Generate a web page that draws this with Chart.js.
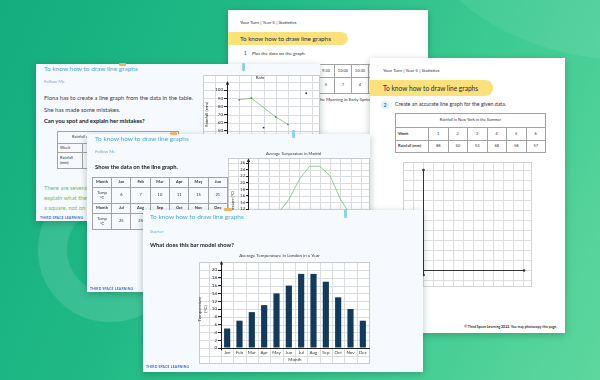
<!DOCTYPE html>
<html>
<head>
<meta charset="utf-8">
<title>To know how to draw line graphs</title>
<script src="https://cdn.jsdelivr.net/npm/chart.js@4.4.1/dist/chart.umd.min.js"></script>
<style>
  html, body { margin: 0; padding: 0; }
  body {
    width: 600px; height: 380px; overflow: hidden; position: relative;
    font-family: Lato, "Open Sans", sans-serif; color: #333;
    background: linear-gradient(115deg, #13ad7e 0%, #21ba86 35%, #3bca91 65%, #5dd79e 100%);
  }
  .deco { position: absolute; border-radius: 50%; }
  .page { position: absolute; overflow: hidden; background: #fff; box-shadow: 0 2px 7px rgba(0, 50, 35, .28); }
  .page.soft { background: #f6f9fd; }
  .t { position: absolute; white-space: nowrap; line-height: 1.2; }
  .hd { color: #4aa8d2; font-size: 6.5px; }
  .sub { color: #67aedb; font-size: 4.5px; }
  .txt { font-size: 5.9px; color: #3c3c3c; }
  .q { font-size: 5.8px; font-weight: 700; color: #222; }
  .green { color: #74bd5f; }
  .pill { position: absolute; left: 0; background: #fbe17a; border-radius: 0 9px 9px 0; color: #1c2a4d; white-space: nowrap; }
  table { position: absolute; border-collapse: collapse; table-layout: fixed; font-size: 4px; color: #333; }
  td { border: 1px solid #a3a3a3; text-align: center; padding: 0; line-height: 1.1; overflow: hidden; white-space: nowrap; }
  td.b { font-weight: 700; }
  td.l { text-align: left; padding-left: 2px; }
  .logo { position: absolute; font-size: 3.4px; font-weight: 700; color: #3d6fc0; letter-spacing: .2px; white-space: nowrap; }
  canvas { position: absolute; }
  .tape { position: absolute; border-radius: 1px; }
</style>
</head>
<body>

<div class="deco" style="left:38px;top:178px;width:86px;height:86px;border:29px solid rgba(255,255,255,.12);"></div>
<div class="deco" style="left:400px;top:-300px;width:460px;height:360px;background:rgba(255,255,255,.07);"></div>

<!-- back page: Your Turn 1 -->
<div class="page" style="left:228px;top:10px;width:200px;height:200px;">
  <div class="t" style="left:12px;top:9.5px;font-size:4.6px;">Your Turn | Year 5 | Statistics</div>
  <div class="pill" style="top:22px;width:108px;height:13px;padding-left:12px;font-size:6.3px;line-height:13px;">To know how to draw line graphs</div>
  <div class="t" style="left:16px;top:41px;font-size:4.6px;color:#2a6fb0;font-weight:700;">1</div>
  <div class="t" style="left:24px;top:41px;font-size:4.6px;">Plot the data on the graph.</div>
  <table id="springTable" style="left:21px;top:54px;"></table>
  <div class="t" style="right:56px;top:87px;font-size:4.5px;">Temperatures in the Morning in Early Spring</div>
</div>

<!-- right page: Your Turn 2 -->
<div class="page" style="left:370px;top:58px;width:195px;height:275px;">
  <div class="t" style="left:13px;top:10px;font-size:4.6px;">Your Turn | Year 5 | Statistics</div>
  <div class="pill" style="top:22px;width:110px;height:16px;padding-left:13px;font-size:6.6px;line-height:16px;">To know how to draw line graphs</div>
  <div style="position:absolute;left:11px;top:42.5px;width:8px;height:8px;border-radius:50%;background:#e1f0fb;color:#2a6fb0;font-size:4.6px;font-weight:700;text-align:center;line-height:8px;">2</div>
  <div class="t" style="left:25px;top:43px;font-size:5.3px;">Create an accurate line graph for the given data.</div>
  <table id="nyTable" style="left:25px;top:55px;"></table>
  <canvas id="nyChart" width="129" height="125" style="left:33px;top:104px;"></canvas>
  <div class="t" style="right:8px;top:266.8px;font-size:3.5px;font-weight:700;color:#333;">© Third Space Learning 2022. You may photocopy this page.</div>
</div>

<!-- Follow Me: Fiona -->
<div class="page soft" style="left:36px;top:64px;width:284px;height:157px;">
  <div class="t hd" style="left:8px;top:0.5px;">To know how to draw line graphs</div>
  <div class="t sub" style="left:8px;top:15.3px;">Follow Me</div>
  <div class="t txt" style="left:8px;top:29.5px;">Fiona has to create a line graph from the data in the table.</div>
  <div class="t txt" style="left:8px;top:41.5px;">She has made some mistakes.</div>
  <div class="t q" style="left:8px;top:53.5px;">Can you spot and explain her mistakes?</div>
  <table id="fionaTable" style="left:21px;top:67px;"></table>
  <div class="t txt green" style="left:8px;top:119.5px;">There are several mistakes on Fiona's graph. Can you</div>
  <div class="t txt green" style="left:8px;top:129.5px;">explain what they are? One point has been plotted in</div>
  <div class="t txt green" style="left:8px;top:139.5px;">a square, not on the line.</div>
  <div class="logo" style="left:4px;top:151.5px;">THIRD SPACE LEARNING</div>
  <canvas id="rainChart" width="120" height="80" style="left:164px;top:8px;"></canvas>
</div>
<div class="tape" style="left:119px;top:63px;width:7px;height:3px;background:#f2b25c;"></div>
<div class="tape" style="left:242px;top:63px;width:3px;height:8px;background:#8fd0f2;"></div>

<!-- Follow Me: Madrid -->
<div class="page soft" style="left:87px;top:134px;width:283px;height:158px;">
  <div class="t hd" style="left:8px;top:1.1px;">To know how to draw line graphs</div>
  <div class="t sub" style="left:8px;top:15.3px;">Follow Me</div>
  <div class="t q" style="left:8px;top:29.5px;">Show the data on the line graph.</div>
  <table id="madridTable" style="left:5px;top:43px;"></table>
  <canvas id="madridChart" width="144" height="115" style="left:139px;top:14px;"></canvas>
  <div class="logo" style="left:3px;top:152.5px;">THIRD SPACE LEARNING</div>
</div>
<div class="tape" style="left:170px;top:132px;width:7px;height:3px;background:#f2b25c;"></div>
<div class="tape" style="left:292px;top:130px;width:3px;height:8px;background:#8fd0f2;"></div>

<!-- Starter: London bar chart -->
<div class="page soft" style="left:143px;top:210px;width:280px;height:162px;">
  <div class="t hd" style="left:7px;top:3.1px;">To know how to draw line graphs</div>
  <div class="t sub" style="left:7px;top:18.8px;">Starter</div>
  <div class="t q" style="left:7px;top:32px;">What does this bar model show?</div>
  <canvas id="londonChart" width="182" height="120" style="left:47px;top:40px;"></canvas>
  <div class="logo" style="left:3px;top:155px;">THIRD SPACE LEARNING</div>
</div>
<div class="tape" style="left:224px;top:208px;width:8px;height:3px;background:#f2b25c;"></div>
<div class="tape" style="left:344px;top:209px;width:3px;height:9px;background:#8fd0f2;"></div>

<script>
// ---- data ----
const months = ['Jan', 'Feb', 'Mar', 'Apr', 'May', 'Jun', 'Jul', 'Aug', 'Sep', 'Oct', 'Nov', 'Dec'];
const londonTemps = [5, 7, 9.2, 11, 14, 16, 19, 19, 17, 13, 10, 7];
const madridTemps = [6, 7, 10, 11, 15, 21, 25, 25, 22, 15, 10, 6];
const rainWeeks = [1, 2, 3, 4, 5, 6];
const rainPlotted = [88, 90, null, 67, 58, null];
const rainStrayX = [3, 6.5];
const rainStrayY = [54, 96];
const nyWeeks = [1, 2, 3, 4, 5, 6];
const nyRainfall = [88, 50, 53, 68, 58, 57];
const springTimes = ['8:00', '8:30', '9:00', '9:30', '10:00', '10:30', '11:00'];
const springTemps = [2, 3, 4, 5, 7, 4, 6];

// ---- tables ----
function fillTable(id, widths, heights, rows) {
  const t = document.getElementById(id);
  let html = '<colgroup>' + widths.map(w => '<col style="width:' + w + 'px">').join('') + '</colgroup>';
  rows.forEach((r, i) => {
    html += '<tr style="height:' + heights[i] + 'px">';
    r.forEach(c => {
      if (typeof c !== 'object') c = { t: c };
      const cls = (c.b ? 'b ' : '') + (c.l ? 'l' : '');
      html += '<td class="' + cls + '"' + (c.span ? ' colspan="' + c.span + '"' : '') +
        (c.pad ? ' style="text-align:left;padding-left:' + c.pad + 'px"' : '') + '>' + c.t + '</td>';
    });
    html += '</tr>';
  });
  t.innerHTML = html;
  t.style.width = widths.reduce((a, b) => a + b, 0) + 'px';
}

fillTable('springTable', [17, 17, 17, 17, 17, 17, 17, 17], [13, 16], [
  [{ t: 'Time', b: true }].concat(springTimes),
  [{ t: 'Temp<br>(°C)', b: true }].concat(springTemps)
]);
fillTable('nyTable', [33, 19.5, 19.5, 19.5, 19.5, 19.5, 19.5], [14, 13, 12], [
  [{ t: 'Rainfall in New York in the Summer', span: 7 }],
  [{ t: 'Week', b: true, l: true }].concat(nyWeeks),
  [{ t: 'Rainfall (mm)', b: true, l: true }].concat(nyRainfall)
]);
fillTable('fionaTable', [25, 16, 16, 16, 16, 16, 16], [12, 9, 16], [
  [{ t: 'Rainfall over Six Weeks', span: 7, pad: 14 }],
  [{ t: 'Week', l: true }].concat(rainWeeks),
  [{ t: 'Rainfall<br>(mm)', l: true }, '', '', '', '', '', '']
]);
fillTable('madridTable', [19.2, 19.3, 19.3, 19.3, 19.3, 19.3, 19.3], [10, 16, 10, 16], [
  [{ t: 'Month', b: true }].concat(months.slice(0, 6).map(m => ({ t: m, b: true }))),
  ['Temp<br>°C'].concat(madridTemps.slice(0, 6)),
  [{ t: 'Month', b: true }].concat(months.slice(6).map(m => ({ t: m, b: true }))),
  ['Temp<br>°C'].concat(madridTemps.slice(6))
]);

// ---- chart helpers ----
Chart.defaults.font.family = 'Lato, "Open Sans", sans-serif';
Chart.defaults.color = '#333';
Chart.defaults.animation = false;
Chart.defaults.responsive = false;
Chart.defaults.plugins.legend.display = false;
Chart.defaults.plugins.tooltip.enabled = false;

function linePixels(scale, step, offset, lo, hi) {
  const out = [];
  for (let k = -120; k <= 120; k++) {
    const p = Math.round(scale.getPixelForValue(k * step + offset)) + 0.5;
    if (p > lo + 0.6 && p < hi - 0.6) out.push(p);
  }
  return out;
}

// squared paper behind the plot, drawn from the chart's own scales
const paperGrid = {
  id: 'paperGrid',
  beforeDraw(chart, args, o) {
    const { ctx } = chart;
    const xs = chart.scales.x, ys = chart.scales.y;
    const [l, t, r, b] = o.box;
    ctx.save();
    ctx.fillStyle = o.fill || '#fff';
    ctx.fillRect(l, t, r - l, b - t);
    ctx.strokeStyle = o.color;
    ctx.lineWidth = 1;
    ctx.beginPath();
    linePixels(xs, o.xStep, o.xOffset || 0, l, r).forEach(p => { ctx.moveTo(p, t); ctx.lineTo(p, b); });
    linePixels(ys, o.yStep, 0, t, b).forEach(p => { ctx.moveTo(l, p); ctx.lineTo(r, p); });
    ctx.stroke();
    if (o.border) {
      ctx.strokeStyle = o.border;
      ctx.strokeRect(l + 0.5, t + 0.5, r - l - 1, b - t - 1);
    }
    ctx.restore();
  }
};

function head(ctx, x, y, dir, kind) {
  ctx.beginPath();
  if (kind === 'dot') {
    ctx.arc(x, y, 1.3, 0, Math.PI * 2);
  } else if (dir === 'up') {
    ctx.moveTo(x, y - 2); ctx.lineTo(x - 1.7, y + 1.6); ctx.lineTo(x + 1.7, y + 1.6);
  } else {
    ctx.moveTo(x + 2, y); ctx.lineTo(x - 1.6, y - 1.7); ctx.lineTo(x - 1.6, y + 1.7);
  }
  ctx.closePath();
  ctx.fill();
}

// axis lines that run past the plot, with arrow heads
const axisArrows = {
  id: 'axisArrows',
  afterDraw(chart, args, o) {
    const { ctx, chartArea } = chart;
    const xs = chart.scales.x, ys = chart.scales.y;
    ctx.save();
    ctx.strokeStyle = ctx.fillStyle = o.color || '#222';
    ctx.lineWidth = 1;
    if (o.v) {
      const px = Math.round(o.v.at == null ? chartArea.left : xs.getPixelForValue(o.v.at)) + 0.5;
      const y1 = ys.getPixelForValue(o.v.from), y2 = ys.getPixelForValue(o.v.to);
      ctx.beginPath(); ctx.moveTo(px, y1); ctx.lineTo(px, y2); ctx.stroke();
      head(ctx, px, y2, 'up', o.head);
      if (o.head === 'dot') head(ctx, px, y1, 'down', 'dot');
    }
    if (o.h) {
      const py = Math.round(o.h.at == null ? chartArea.bottom : ys.getPixelForValue(o.h.at)) + 0.5;
      const x1 = xs.getPixelForValue(o.h.from), x2 = xs.getPixelForValue(o.h.to);
      ctx.beginPath(); ctx.moveTo(x1, py); ctx.lineTo(x2, py); ctx.stroke();
      head(ctx, x2, py, 'right', o.head);
    }
    ctx.restore();
  }
};

// ---- London bar chart ----
new Chart(document.getElementById('londonChart'), {
  type: 'bar',
  data: {
    labels: months,
    datasets: [{
      label: 'Temperature (°C)',
      data: londonTemps,
      backgroundColor: '#123a5c',
      barPercentage: 0.5,
      categoryPercentage: 1
    }]
  },
  options: {
    layout: { padding: { left: 0, right: 3, top: 0, bottom: 0 } },
    plugins: {
      title: {
        display: true,
        text: 'Average Temperature in London in a Year',
        color: '#333',
        font: { size: 4.5, weight: 'normal' },
        padding: { top: 3.3, bottom: 11.3 }
      },
      paperGrid: { box: [9, 12, 180, 114], xStep: 1, xOffset: -0.5, yStep: 2, color: '#d9dce0', border: '#c8ccd1' },
      axisArrows: { v: { at: null, from: -0.6, to: 21.8 }, head: 'arrow' }
    },
    scales: {
      x: {
        grid: { drawOnChartArea: false, drawTicks: false },
        border: { color: '#222' },
        ticks: { font: { size: 4.5 }, padding: 2, maxRotation: 0, autoSkip: false },
        title: { display: true, text: 'Month', font: { size: 4.5 }, padding: { top: 0, bottom: 7.8 } },
        afterFit(s) { s.height = 22; }
      },
      y: {
        min: 0,
        max: 20,
        ticks: { stepSize: 2, font: { size: 4.5 }, padding: 1, autoSkip: false },
        grid: { drawOnChartArea: false, tickLength: 3, tickColor: '#222' },
        border: { color: '#222' },
        title: { display: true, text: ['Temperature', '(°C)'], font: { size: 4.5 }, padding: { top: 7, bottom: 0 } },
        afterFit(s) { s.width = 31; }
      }
    }
  },
  plugins: [paperGrid, axisArrows]
});

// ---- Fiona's rain graph (with mistakes) ----
new Chart(document.getElementById('rainChart'), {
  type: 'scatter',
  data: {
    datasets: [{
      label: 'Rainfall (mm)',
      data: rainWeeks.map((w, i) => ({ x: w, y: rainPlotted[i] })),
      showLine: true,
      spanGaps: true,
      borderColor: '#78c070',
      borderWidth: 0.8,
      pointRadius: 0.9,
      pointBorderWidth: 0,
      pointBackgroundColor: '#4f8a4a'
    }, {
      label: 'Stray points',
      data: rainStrayX.map((x, i) => ({ x: x, y: rainStrayY[i] })),
      pointRadius: 0.9,
      pointBorderWidth: 0,
      pointBackgroundColor: '#333'
    }]
  },
  options: {
    layout: { padding: 0 },
    plugins: {
      title: { display: true, text: 'Rain', color: '#333', font: { size: 4.5, weight: 'normal' }, padding: { top: 3.3, bottom: 9.3 } },
      paperGrid: { box: [3, 3, 120, 80], xStep: 1, yStep: 10, color: '#d9dce0', border: '#c8ccd1' },
      axisArrows: { v: { at: 0, from: 40, to: 108.5 }, head: 'arrow' }
    },
    scales: {
      x: {
        type: 'linear', min: 0, max: 7.3,
        grid: { drawOnChartArea: false, drawTicks: false },
        ticks: { display: false },
        border: { color: '#222' },
        afterFit(s) { s.height = 13; }
      },
      y: {
        min: 40, max: 100,
        ticks: { stepSize: 10, font: { size: 4.5 }, padding: 1, autoSkip: false },
        grid: { drawOnChartArea: false, tickLength: 3, tickColor: '#222' },
        border: { color: '#222' },
        title: { display: true, text: 'Rainfall (mm)', font: { size: 4.5 }, padding: { top: 4.3, bottom: 0 } },
        afterFit(s) { s.width = 27; }
      }
    }
  },
  plugins: [paperGrid, axisArrows]
});

// ---- Madrid line graph ----
new Chart(document.getElementById('madridChart'), {
  type: 'line',
  data: {
    labels: months,
    datasets: [{
      label: 'Temperature (°C)',
      data: madridTemps,
      borderColor: '#78c070',
      borderWidth: 0.8,
      pointRadius: 0,
      tension: 0
    }]
  },
  options: {
    layout: { padding: { left: 0, right: 9, top: 0, bottom: 0 } },
    plugins: {
      title: { display: true, text: 'Average Temperature in Madrid', color: '#333', font: { size: 4, weight: 'normal' }, padding: { top: 3.6, bottom: 6.6 } },
      paperGrid: { box: [2, 10, 144, 115], xStep: 1, yStep: 2, color: '#d9dce0', border: '#c8ccd1' },
      axisArrows: { v: { at: null, from: 0, to: 26.8 }, head: 'arrow' }
    },
    scales: {
      x: {
        offset: false,
        grid: { drawOnChartArea: false, drawTicks: false },
        ticks: { font: { size: 4 }, padding: 2, maxRotation: 0, autoSkip: false },
        border: { color: '#222' },
        afterFit(s) { s.height = 14.5; }
      },
      y: {
        min: 0, max: 26,
        ticks: { stepSize: 2, font: { size: 4 }, padding: 1, autoSkip: false },
        grid: { drawOnChartArea: false, tickLength: 2, tickColor: '#222' },
        border: { color: '#222' },
        title: { display: true, text: 'Temperature (°C)', font: { size: 4 }, padding: { top: 4.6, bottom: 0 } },
        afterFit(s) { s.width = 22; }
      }
    }
  },
  plugins: [paperGrid, axisArrows]
});

// ---- empty New York grid for pupils ----
new Chart(document.getElementById('nyChart'), {
  type: 'scatter',
  data: { datasets: [{ label: 'Rainfall (mm)', data: [] }] },
  options: {
    layout: { padding: 0 },
    plugins: {
      paperGrid: { box: [0, 0, 129, 125], xStep: 1, yStep: 1, color: '#dedede', border: '#d2d2d2' },
      axisArrows: { v: { at: 0, from: -0.5, to: 10 }, h: { at: 0, from: 0, to: 10.1 }, head: 'dot', color: '#333' }
    },
    scales: {
      x: { type: 'linear', min: -2, max: 10.9, display: false },
      y: { min: -1.7, max: 10.8, display: false }
    }
  },
  plugins: [paperGrid, axisArrows]
});
</script>
</body>
</html>
